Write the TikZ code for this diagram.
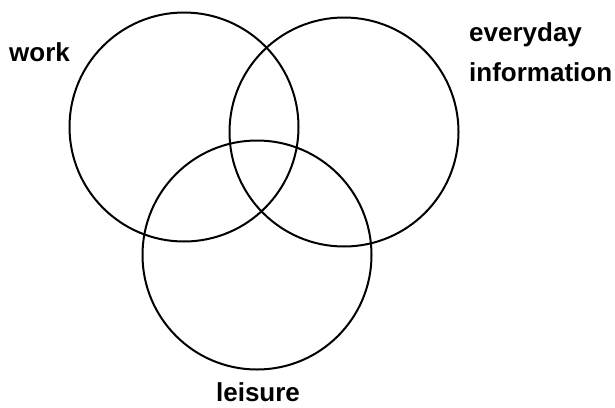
\documentclass[tikz,border=0pt]{standalone}
\usepackage{fontspec}
\setmainfont{Liberation Sans}
\begin{document}
\begin{tikzpicture}[x=1pt,y=-1pt,
  venn/.style={draw=black,line width=2pt},
  lbl/.style={font=\bfseries\fontsize{26}{40}\selectfont,inner sep=0pt}]
\useasboundingbox (0,0) rectangle (615,407);
\node[venn,circle,minimum size=229pt,inner sep=0pt] (work) at (184,127) {};
\node[venn,circle,minimum size=229pt,inner sep=0pt] (every) at (344,132) {};
\node[venn,circle,minimum size=229pt,inner sep=0pt] (leis) at (257,255) {};
\node[lbl,anchor=west] (tw) at (9,52) {work};
\node[lbl,anchor=north west,align=left] (te) at (469,22) {everyday\\information};
\node[lbl] (tl) at (258,392) {leisure};
\end{tikzpicture}
\end{document}
